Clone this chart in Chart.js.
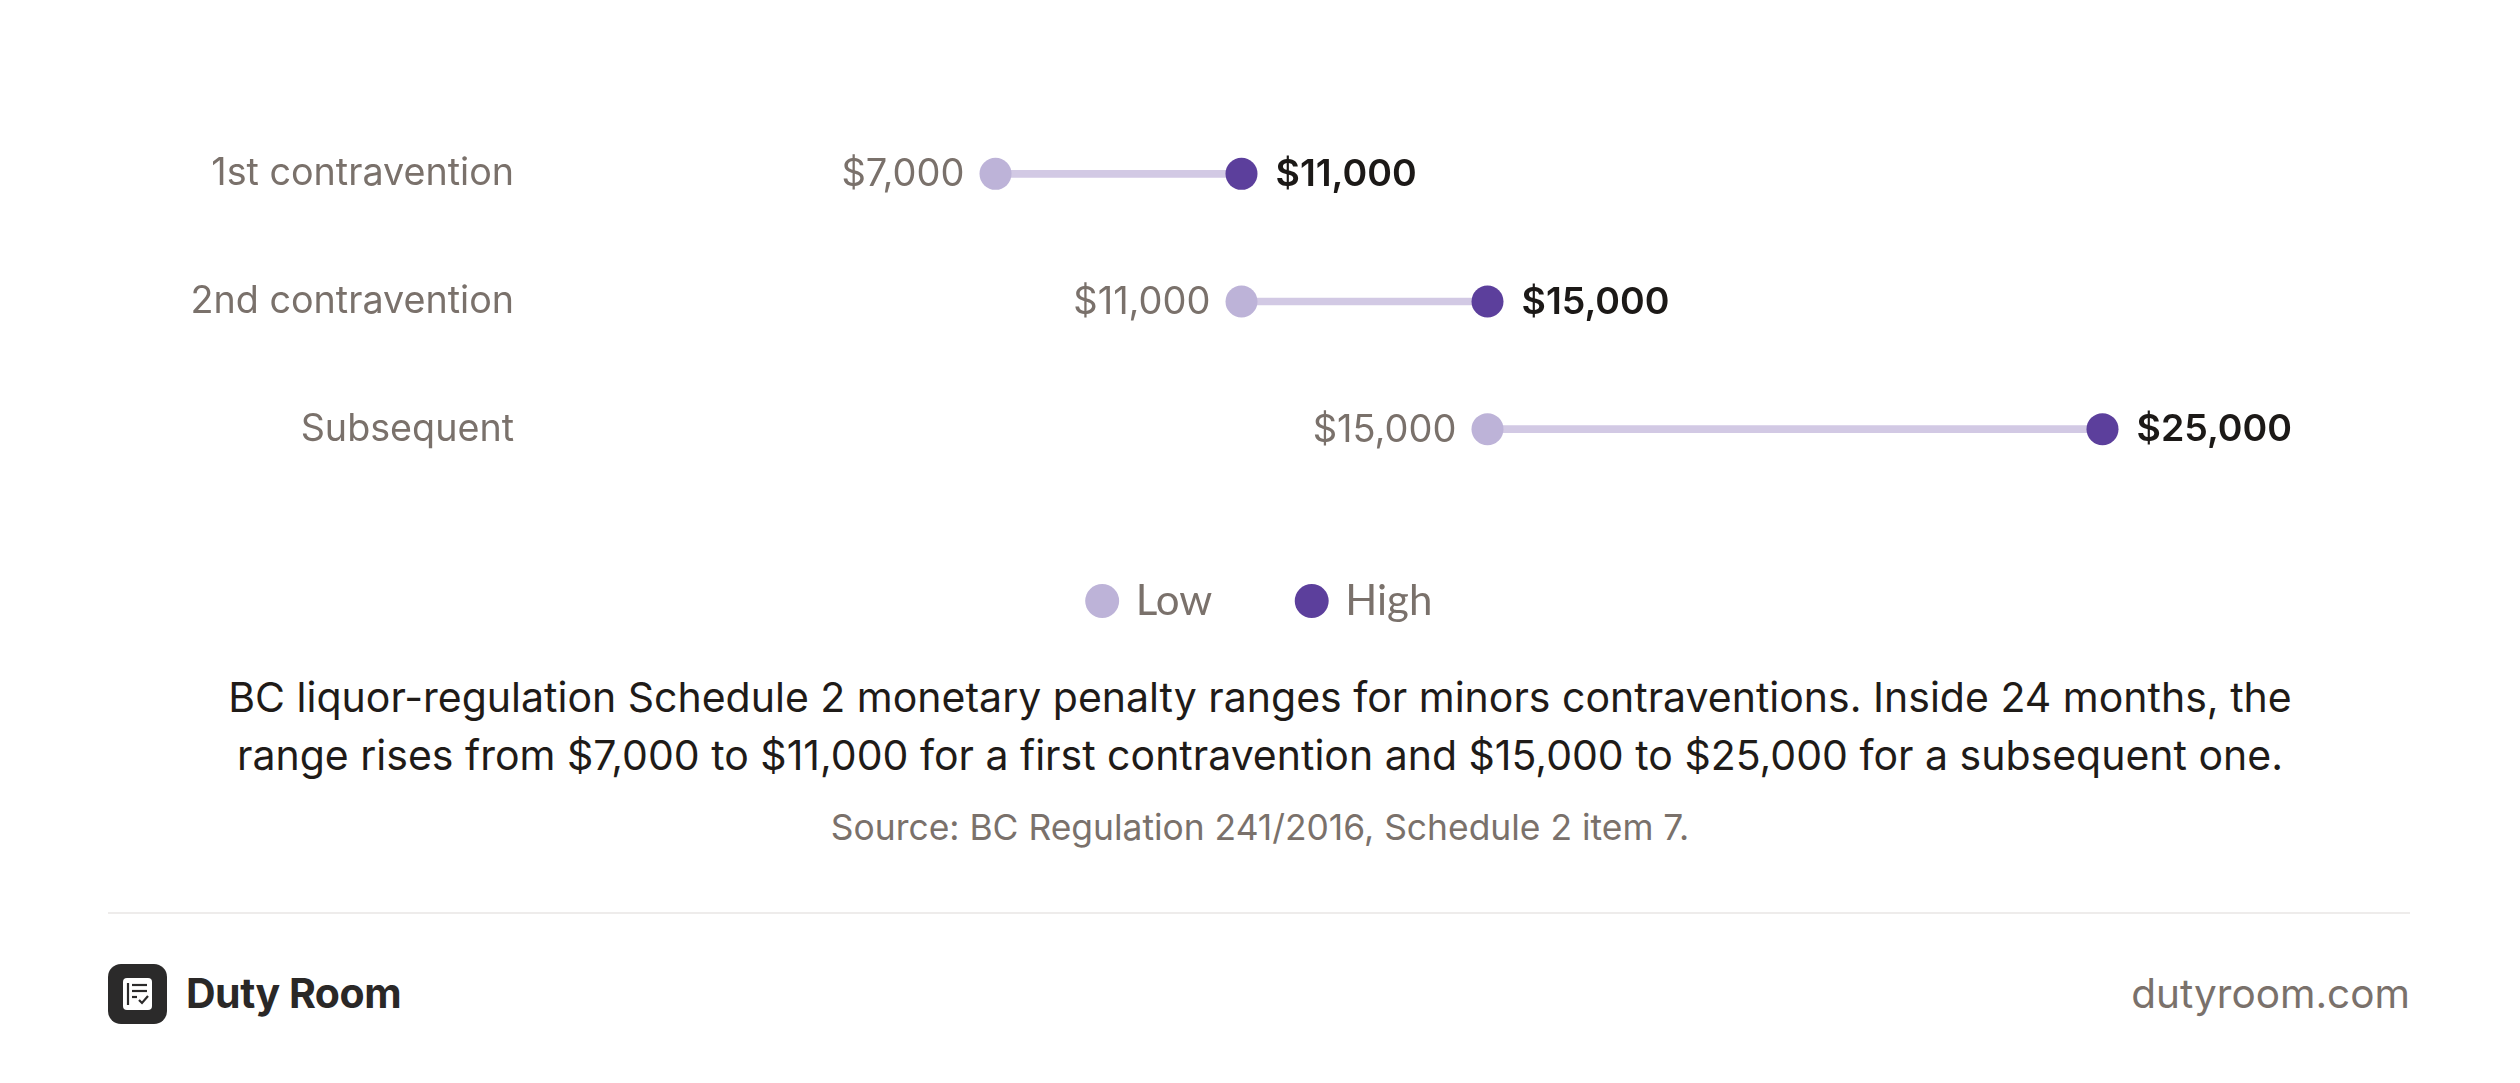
<!DOCTYPE html>
<html>
<head>
<meta charset="utf-8">
<script src="https://cdn.jsdelivr.net/npm/chart.js@4.4.1/dist/chart.umd.min.js"></script>
<style>
  html, body { margin: 0; padding: 0; background: #ffffff; }
  body { width: 2520px; height: 1083px; position: relative; overflow: hidden; font-family: Inter, "Noto Sans", sans-serif; }
  #chartWrap { position: absolute; left: 0; top: 0; width: 2520px; height: 632px; }
  #caption { position: absolute; left: 0; width: 2520px; top: 668px; text-align: center; font-size: 41px; line-height: 58px; color: #1f1b18; }
  #source { position: absolute; left: 0; width: 2520px; top: 806px; text-align: center; font-size: 35.4px; color: #7a716b; }
  #divider { position: absolute; left: 108px; width: 2302px; top: 912px; height: 2px; background: #eeeceb; }
  #logo { position: absolute; left: 108px; top: 964px; width: 59px; height: 60px; }
  #brand { position: absolute; left: 186px; top: 968px; font-size: 41px; font-weight: 700; color: #2a2827; letter-spacing: -0.5px; }
  #site { position: absolute; right: 110px; top: 969px; font-size: 40.5px; color: #7a716b; }
</style>
</head>
<body>
<div id="chartWrap"><canvas id="c"></canvas></div>
<div id="caption">BC liquor-regulation Schedule 2 monetary penalty ranges for minors contraventions. Inside 24 months, the<br>range rises from $7,000 to $11,000 for a first contravention and $15,000 to $25,000 for a subsequent one.</div>
<div id="source">Source: BC Regulation 241/2016, Schedule 2 item 7.</div>
<div id="divider"></div>
<svg id="logo" viewBox="0 0 59 60">
  <rect x="0" y="0" width="59" height="60" rx="13" ry="13" fill="#2b2a2a"/>
  <rect x="15" y="14" width="29" height="32" rx="4" ry="4" fill="#ffffff"/>
  <line x1="20" y1="19" x2="20" y2="41" stroke="#2b2a2a" stroke-width="2.2"/>
  <line x1="24" y1="21" x2="39" y2="21" stroke="#2b2a2a" stroke-width="2.2"/>
  <line x1="24" y1="27" x2="39" y2="27" stroke="#2b2a2a" stroke-width="2.2"/>
  <line x1="24" y1="33" x2="29" y2="33" stroke="#2b2a2a" stroke-width="2.2"/>
  <polyline points="31,36 34,39 40,32" fill="none" stroke="#2b2a2a" stroke-width="2.2"/>
</svg>
<div id="brand">Duty Room</div>
<div id="site">dutyroom.com</div>
<script>
const categories = ["1st contravention", "2nd contravention", "Subsequent"];
const lowValues = [7000, 11000, 15000];
const highValues = [11000, 15000, 25000];
const seriesNames = ["Low", "High"];
const axisMin = 0;
const axisMax = 30000;

const fmt = v => "$" + v.toLocaleString("en-US");

const valueLabels = {
  id: "valueLabels",
  afterDatasetsDraw(chart) {
    const ctx = chart.ctx;
    const lowMeta = chart.getDatasetMeta(1);
    const highMeta = chart.getDatasetMeta(2);
    ctx.save();
    ctx.textBaseline = "middle";
    lowMeta.data.forEach((pt, i) => {
      ctx.font = "400 38px Inter";
      ctx.fillStyle = "#7a716b";
      ctx.textAlign = "right";
      ctx.fillText(fmt(lowValues[i]), pt.x - 31, pt.y + 1);
    });
    highMeta.data.forEach((pt, i) => {
      ctx.font = "600 37.5px Inter";
      ctx.fillStyle = "#1c1917";
      ctx.textAlign = "left";
      ctx.fillText(fmt(highValues[i]), pt.x + 34, pt.y + 1);
    });
    ctx.restore();
  }
};

new Chart(document.getElementById("c"), {
  type: "bar",
  data: {
    labels: categories,
    datasets: [
      {
        label: "range",
        data: lowValues.map((v, i) => [v, highValues[i]]),
        backgroundColor: "#d2c9e4",
        borderWidth: 0,
        barThickness: 7,
        order: 3
      },
      {
        type: "line",
        label: seriesNames[0],
        data: lowValues,
        indexAxis: "y",
        showLine: false,
        pointRadius: 16,
        pointHoverRadius: 16,
        pointBorderWidth: 0,
        pointBackgroundColor: "#bdb3d8",
        backgroundColor: "#bdb3d8",
        borderColor: "#bdb3d8",
        order: 2
      },
      {
        type: "line",
        label: seriesNames[1],
        data: highValues,
        indexAxis: "y",
        showLine: false,
        pointRadius: 16,
        pointHoverRadius: 16,
        pointBorderWidth: 0,
        pointBackgroundColor: "#5c3f9c",
        backgroundColor: "#5c3f9c",
        borderColor: "#5c3f9c",
        order: 1
      }
    ]
  },
  options: {
    indexAxis: "y",
    responsive: true,
    maintainAspectRatio: false,
    animation: false,
    devicePixelRatio: 1,
    layout: { padding: { left: 112, right: 110, top: 110, bottom: 0 } },
    scales: {
      x: {
        type: "linear",
        min: axisMin,
        max: axisMax,
        display: false
      },
      y: {
        type: "category",
        offset: true,
        grid: { display: false, drawTicks: false },
        border: { display: false },
        ticks: {
          padding: 51,
          color: "#7a716b",
          font: { family: "Inter", size: 37.7, weight: "400" }
        },
        afterFit(scale) { scale.width = 453; }
      }
    },
    plugins: {
      tooltip: { enabled: false },
      legend: {
        display: true,
        position: "bottom",
        labels: {
          filter: item => item.datasetIndex > 0,
          sort: (a, b) => a.datasetIndex - b.datasetIndex,
          usePointStyle: true,
          pointStyle: "circle",
          boxWidth: 25,
          boxHeight: 24,
          padding: 87,
          color: "#7a716b",
          font: { family: "Lato", size: 42, weight: "400" }
        }
      }
    }
  },
  plugins: [valueLabels]
});
</script>
</body>
</html>
